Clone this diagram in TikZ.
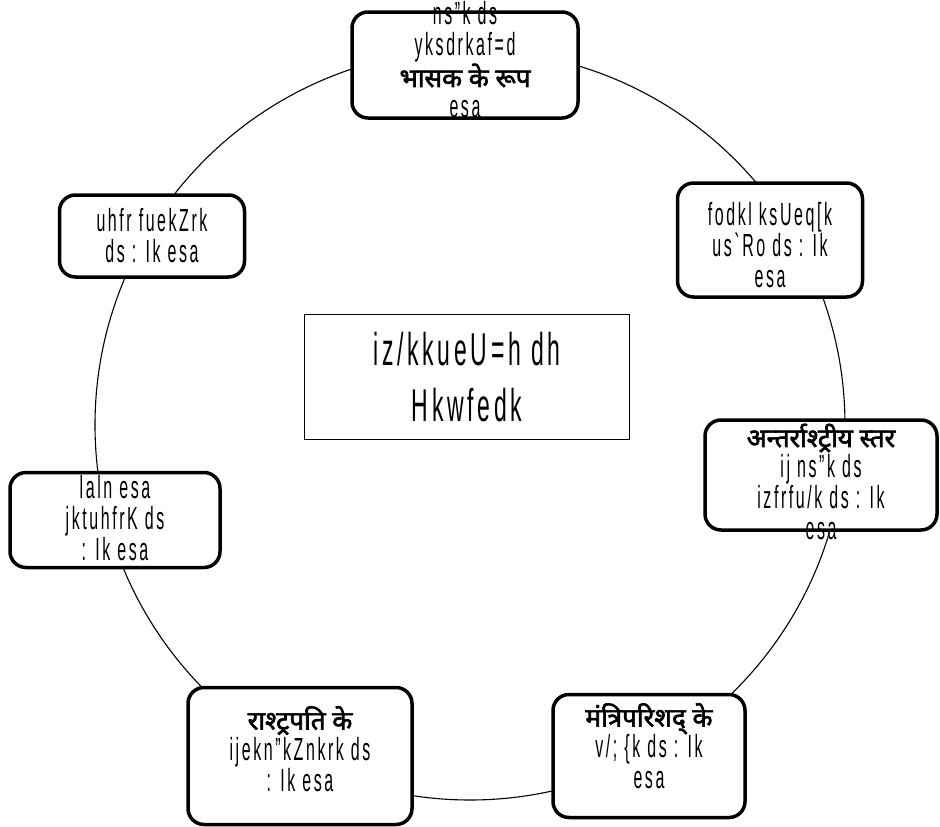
\documentclass[tikz,border=0pt]{standalone}
\usepackage{fontspec}
\setmainfont{Liberation Sans}
\newfontfamily\kdfont[FakeStretch=0.5,LetterSpace=8]{Liberation Sans}
\newfontfamily\hifont[Script=Devanagari,FakeBold=2.5]{Noto Sans}
\newcommand{\hi}[1]{{\hifont\fontsize{26}{31}\selectfont #1}}

\begin{document}
\begin{tikzpicture}[x=1pt,y=-1pt,
roundbox/.style={rectangle, draw=black, fill=white, line width=3.5pt, rounded corners=16pt, inner sep=0pt},
boxtext/.style={align=center, font=\kdfont\fontsize{32}{31}\selectfont, inner sep=0pt},
titlebox/.style={rectangle, draw=black, line width=0.8pt, minimum width=325pt, minimum height=125pt, align=center, font=\kdfont\fontsize{46}{56}\selectfont}
]
\useasboundingbox (0,0) rectangle (940,827);

%Circle
\coordinate (CENTRE) at (470,425);
\draw[line width=1.1pt] (CENTRE) circle[radius=375pt];

%Centre
\node[titlebox] at (467,377) (ROLE) {iz/kkueU=h dh\\Hkwfedk};

%Boxes
\node[roundbox, minimum width=226pt, minimum height=106pt] at (465,65)  (LEADER) {};
\node[roundbox, minimum width=185pt, minimum height=114pt] at (770,240) (DEVEL)  {};
\node[roundbox, minimum width=232pt, minimum height=110pt] at (821,475) (INTL)   {};
\node[roundbox, minimum width=192pt, minimum height=123pt] at (649,756) (CABINET){};
\node[roundbox, minimum width=224pt, minimum height=137pt] at (300,756) (PRES)   {};
\node[roundbox, minimum width=210pt, minimum height=95pt]  at (115,520) (PARL)   {};
\node[roundbox, minimum width=185pt, minimum height=82pt]  at (152,236) (POLICY) {};

%Texts
\node[boxtext] at (465,60)  (LEADER-T)  {ns”k ds\\yksdrkaf=d\\\hi{भासक के रूप}\\esa};
\node[boxtext] at (770,245) (DEVEL-T)   {fodkl ksUeq[k\\us`Ro ds : Ik\\esa};
\node[boxtext] at (821,482) (INTL-T)    {\hi{अन्तर्राश्ट्रीय स्तर}\\ij ns”k ds\\izfrfu/k ds : Ik\\esa};
\node[boxtext] at (649,746) (CABINET-T) {\hi{मंत्रिपरिशद् के}\\v/; \{k ds : Ik\\esa};
\node[boxtext] at (300,749) (PRES-T)    {\hi{राश्ट्रपति के}\\ijekn”kZnkrk ds\\: Ik esa};
\node[boxtext] at (115,518) (PARL-T)    {laln esa\\jktuhfrK ds\\: Ik esa};
\node[boxtext] at (152,236) (POLICY-T)  {uhfr fuekZrk\\ds : Ik esa};
\end{tikzpicture}
\end{document}
